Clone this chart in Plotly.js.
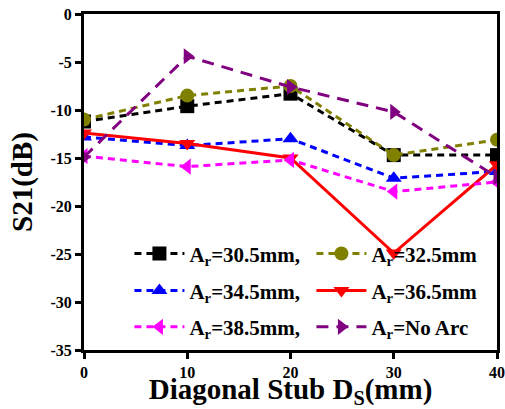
<!DOCTYPE html>
<html>
<head>
<meta charset="utf-8">
<script src="https://cdn.plot.ly/plotly-3.0.1.min.js"></script>
<style>
  html, body { margin: 0; padding: 0; background: #fff; }
  #chart { width: 505px; height: 409px; }
</style>
</head>
<body>
<div id="chart"></div>
<script>
// Diagonal stub length (mm)
const stubLength = [0, 10, 20, 30, 40];

// S21 (dB) for each arc length
const s21_30_5 = [-11.2, -9.6, -8.3, -14.7, -14.7];
const s21_32_5 = [-11.0, -8.5, -7.5, -14.7, -13.1];
const s21_34_5 = [-12.8, -13.7, -13.0, -17.1, -16.4];
const s21_36_5 = [-12.4, -13.5, -15.0, -24.9, -15.7];
const s21_38_5 = [-14.8, -15.9, -15.2, -18.5, -17.5];
const s21_noArc = [-14.9, -4.4, -7.6, -10.2, -17.0];

const seriesNames = [
  'A<sub>r</sub>=30.5mm,',
  'A<sub>r</sub>=32.5mm',
  'A<sub>r</sub>=34.5mm,',
  'A<sub>r</sub>=36.5mm',
  'A<sub>r</sub>=38.5mm,',
  'A<sub>r</sub>=No Arc'
];

const yTicks = [0, -5, -10, -15, -20, -25, -30, -35];
const xTicks = [0, 10, 20, 30, 40];

const serif = 'Liberation Serif, Times New Roman, serif';

function series(y, name, color, symbol, dash, legendId) {
  return {
    x: stubLength, y: y, name: name, type: 'scatter', mode: 'lines+markers',
    legend: legendId,
    line: { color: color, width: 3, dash: dash },
    marker: { color: color, symbol: symbol, size: 14 }
  };
}

// Two entries per legend row
const data = [
  series(s21_30_5, seriesNames[0], '#000000', 'square', '7px,5px', 'legend'),
  series(s21_32_5, seriesNames[1], '#808000', 'circle', '7px,5px', 'legend'),
  series(s21_34_5, seriesNames[2], '#0000FF', 'triangle-up', '7px,5px', 'legend2'),
  series(s21_36_5, seriesNames[3], '#FF0000', 'triangle-down', 'solid', 'legend2'),
  series(s21_38_5, seriesNames[4], '#FF00FF', 'triangle-left', '7px,5px', 'legend3'),
  series(s21_noArc, seriesNames[5], '#800080', 'triangle-right', '12px,8px', 'legend3')
];

const axisCommon = {
  showgrid: false, zeroline: false,
  showline: true, linecolor: '#000', linewidth: 3, mirror: true,
  ticks: 'outside', ticklen: 6, tickwidth: 3, tickcolor: '#000',
  tickfont: { family: serif, size: 16, color: '#000', weight: 'bold' }
};

function legendRow(y) {
  return {
    orientation: 'h', x: 0.11, xanchor: 'left', y: y, yanchor: 'middle',
    entrywidth: 117, entrywidthmode: 'pixels', itemwidth: 50,
    bgcolor: 'rgba(0,0,0,0)', borderwidth: 0,
    font: { family: serif, size: 21, color: '#000', weight: 'bold' }
  };
}

const layout = {
  width: 505, height: 409,
  margin: { l: 84, r: 8, t: 14, b: 59 },
  paper_bgcolor: '#fff', plot_bgcolor: '#fff',
  showlegend: true,
  legend: legendRow(0.286),
  legend2: legendRow(0.176),
  legend3: legendRow(0.068),
  xaxis: Object.assign({}, axisCommon, {
    range: [0, 40], tickvals: xTicks, ticktext: xTicks.map(String),
    title: { text: 'Diagonal Stub D<sub>S</sub>(mm)', standoff: 4,
             font: { family: serif, size: 29, color: '#000', weight: 'bold' } }
  }),
  yaxis: Object.assign({}, axisCommon, {
    range: [-35, 0], tickvals: yTicks, ticktext: yTicks.map(String),
    title: { text: 'S21(dB)', standoff: 10,
             font: { family: serif, size: 29, color: '#000', weight: 'bold' } }
  })
};

Plotly.newPlot('chart', data, layout, { displayModeBar: false, staticPlot: true });
</script>
</body>
</html>
